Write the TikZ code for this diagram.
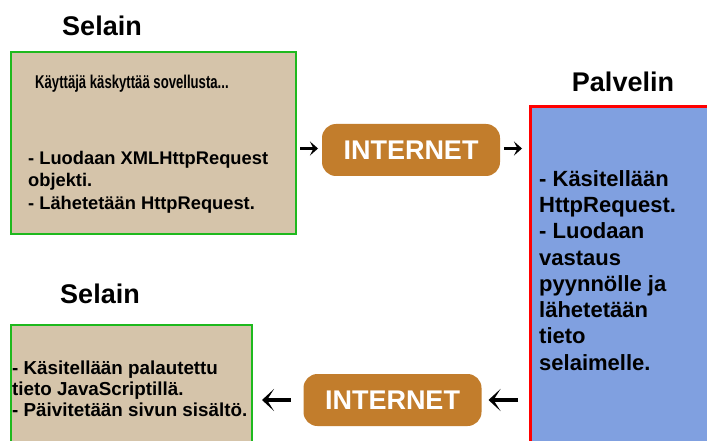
\documentclass[tikz,border=0pt]{standalone}
\usepackage{fontspec}
\setmainfont{Liberation Sans}
\newfontfamily\narrowfont[FakeStretch=0.71]{Liberation Sans}
\usetikzlibrary{arrows.meta,calc}
\definecolor{seltan}{RGB}{213,196,170}
\definecolor{selgreen}{RGB}{30,185,30}
\definecolor{srvred}{RGB}{255,0,0}
\definecolor{srvblue}{RGB}{128,160,224}
\definecolor{pillbrown}{RGB}{194,125,44}
\begin{document}
\begin{tikzpicture}[x=1pt,y=-1pt,
  title/.style={font=\bfseries\fontsize{27}{32}\selectfont, inner sep=0, anchor=base},
  clientbox/.style={draw=selgreen, fill=seltan, line width=2.8pt, rectangle, inner sep=0, outer sep=0, anchor=north west},
  serverbox/.style={draw=srvred, fill=srvblue, line width=3pt, rectangle, inner sep=0, outer sep=0, anchor=north west},
  pill/.style={fill=pillbrown, rounded corners=14pt, text=white, font=\bfseries\fontsize{27}{32}\selectfont, minimum width=178pt, minimum height=52pt, inner sep=0, outer sep=0},
  boxtext/.style={align=left, inner sep=0, anchor=north west},
  upar/.style={line width=3pt, -{Stealth[length=8pt,width=14pt,inset=3.5pt]}},
  downar/.style={line width=4pt, -{Stealth[length=12pt,width=22pt,inset=7pt]}}
]
\useasboundingbox (0,0) rectangle (707,441);
\clip (0,0) rectangle (707,441);
\fill[white] (0,0) rectangle (707,441);

% titles
\node[title] (sel1) at (102,36) {Selain};
\node[title] (pal) at (623,92) {Palvelin};
\node[title] (sel2) at (100,303) {Selain};

% boxes
\node[clientbox, minimum width=285pt, minimum height=182pt] (box1) at (11,52) {};
\node[serverbox, minimum width=190pt, minimum height=353pt] (srv) at (530,107) {};
\node[clientbox, minimum width=241pt, minimum height=135pt] (box2) at (11,325) {};

% texts
\node[inner sep=0, anchor=base west, font=\narrowfont\bfseries\fontsize{18.5}{22}\selectfont] (t0) at (35,89) {Käyttäjä käskyttää sovellusta...};
\node[boxtext, font=\bfseries\fontsize{18.3}{22.5}\selectfont] (t1) at (28,150.6)
  {- Luodaan XMLHttpRequest\\objekti.\\- Lähetetään HttpRequest.};
\node[boxtext, font=\bfseries\fontsize{22}{26.3}\selectfont] (t2) at (539,170)
  {- Käsitellään\\HttpRequest.\\- Luodaan\\vastaus\\pyynnölle ja\\lähetetään\\tieto\\selaimelle.};
\node[boxtext, font=\bfseries\fontsize{18.8}{21}\selectfont] (t3) at (12,361)
  {- Käsitellään palautettu\\tieto JavaScriptillä.\\- Päivitetään sivun sisältö.};

% internet pills
\node[pill] (in1) at (411,150) {INTERNET};
\node[pill] (in2) at (392.5,400) {INTERNET};

% arrows
\draw[upar] ($(box1.east |- in1.west)+(4,-1.5)$) -- ($(in1.west)+(-4,-1.5)$);
\draw[upar] ($(in1.east)+(4,-1.5)$) -- ($(in1.east -| srv.west)+(-8,-1.5)$);
\draw[downar] ($(in2.east -| srv.west)+(-12,0)$) -- ($(in2.east)+(7,0)$);
\draw[downar] ($(in2.west)+(-13,0)$) -- ($(in2.west -| box2.east)+(10,0)$);
\end{tikzpicture}
\end{document}
